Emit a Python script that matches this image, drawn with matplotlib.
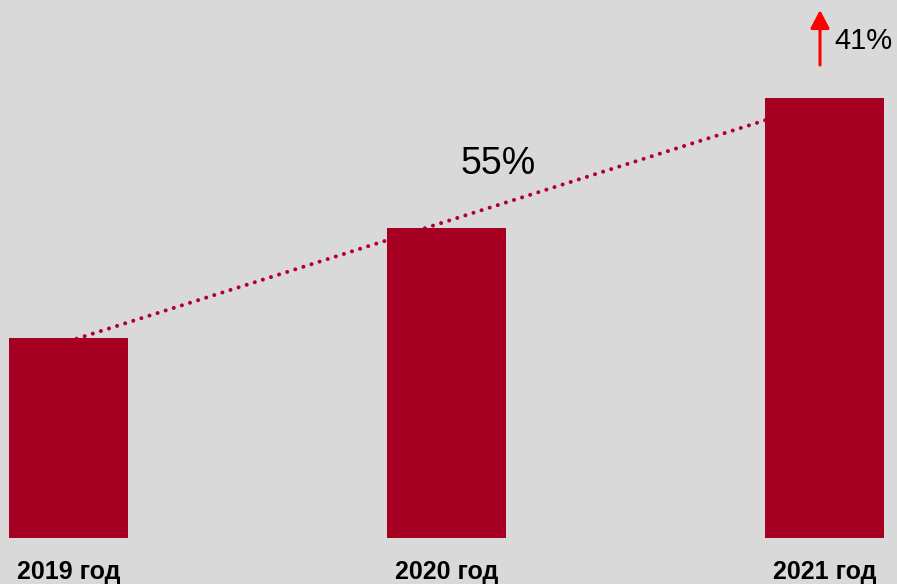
import matplotlib.pyplot as plt
import numpy as np

plt.rcParams['font.family'] = ['Liberation Sans', 'DejaVu Sans']

# данные
years = ['2019 год', '2020 год', '2021 год']
values = [100, 155, 220]
growth_2020 = '55%'
growth_2021 = '41%'

bar_color = '#a50021'
bg_color = '#d9d9d9'

fig = plt.figure(figsize=(8.97, 5.84), dpi=100, facecolor=bg_color)
ax = fig.add_axes([0, 46 / 584, 1, 538 / 584])
ax.set_facecolor(bg_color)

x = np.arange(len(values))
ax.bar(x, values, width=0.314, color=bar_color, zorder=3)

# линейный тренд
k, b = np.polyfit(x, values, 1)
ax.plot(x, k * x + b, linestyle=(0, (0.01, 2.1)), dash_capstyle='round',
        color='#b3002a', linewidth=2.9, zorder=2)

ax.set_xlim(-0.181, 2.191)
ax.set_ylim(0, 269)
for s in ax.spines.values():
    s.set_visible(False)
ax.set_xticks([])
ax.set_yticks([])

# подписи лет
for xi, lab in zip(x, years):
    ax.text(xi, -17, lab, ha='center', va='center', fontsize=18,
            fontweight='bold', color='black', clip_on=False)

# проценты роста
fig.text(498 / 897, 1 - 164 / 584, growth_2020, ha='center', va='center',
         fontsize=27, color='black')
fig.text(863 / 897, 1 - 41 / 584, growth_2021, ha='center', va='center',
         fontsize=21, color='black')
fig.add_artist(plt.matplotlib.patches.FancyArrowPatch(
    (820 / 897, 1 - 65 / 584), (820 / 897, 1 - 10 / 584),
    transform=fig.transFigure, arrowstyle='-|>,head_length=11,head_width=5.8',
    color='#ff0000', linewidth=2.2, shrinkA=0, shrinkB=0))

fig.savefig('out.png', dpi=100, facecolor=bg_color)
